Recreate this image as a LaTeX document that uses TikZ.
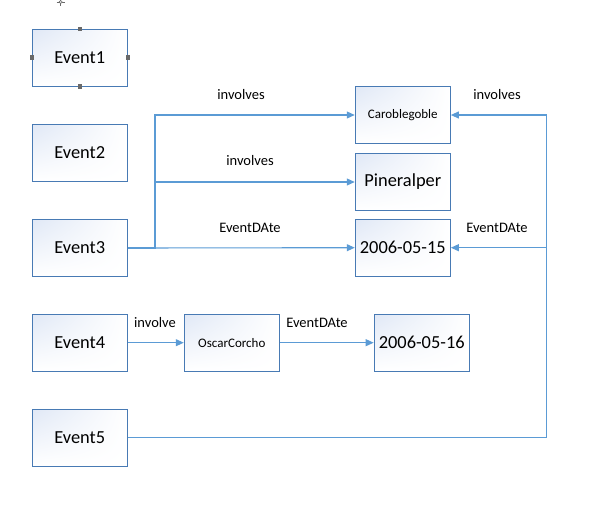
\documentclass[tikz,border=0pt]{standalone}
\usepackage{fontspec}
\setmainfont{Carlito}
\usetikzlibrary{arrows.meta,shadings}
\definecolor{boxline}{RGB}{72,122,180}
\definecolor{conncol}{RGB}{91,155,213}
\definecolor{boxtint}{RGB}{224,232,246}
\definecolor{handlecol}{RGB}{105,105,105}
\tikzset{
  box/.style={draw=boxline, line width=1.1pt, minimum width=95pt, minimum height=56.7pt, inner sep=0pt,
    shade, shading=bilinear interpolation, upper left=boxtint, upper right=white, lower left=white, lower right=white},
  big/.style={font=\fontsize{18.4}{20}\selectfont},
  small/.style={font=\fontsize{13}{15}\selectfont},
  lbl/.style={font=\fontsize{14.5}{16}\selectfont, inner sep=0pt},
  conn/.style={draw=conncol, line width=1.1pt, -{Triangle[length=8pt,width=7pt]}},
  plain/.style={draw=conncol, line width=1.1pt},
  handle/.style={fill=handlecol, draw=none, minimum size=4.5pt, inner sep=0pt}
}
\begin{document}
\begin{tikzpicture}[x=1pt,y=-1pt]
\useasboundingbox (0,0) rectangle (612,511);
\node[box,big] (e1) at (79.8,57.7) {Event1};
\node[box,big] (e2) at (79.8,153) {Event2};
\node[box,big] (e3) at (79.8,248) {Event3};
\node[box,big] (e4) at (79.8,342.7) {Event4};
\node[box,big] (e5) at (79.8,437.7) {Event5};
\node[box,small] (caro) at (402.8,115) {Caroblegoble};
\node[box,big] (pine) at (402.8,182) {Pineralper};
\node[box,big] (d15) at (402.8,247.7) {2006-05-15};
\node[box,small] (oscar) at (231.8,342.7) {OscarCorcho};
\node[box,big] (d16) at (421.7,342.7) {2006-05-16};
% selection handles
\node[handle] (h1) at (e1.north) {};
\node[handle] (h2) at (e1.south) {};
\node[handle] (h3) at (e1.west) {};
\node[handle] (h4) at (e1.east) {};
\draw[handlecol, line width=0.6pt] (56.7,2) -- (64.7,2) (60.7,-2) -- (60.7,6);
\draw[handlecol, line width=0.6pt, fill=white] (60.7,2) circle (1.6pt);
% connectors
\coordinate (jl) at (155,248);
\coordinate (jr) at (546.7,437.7);
\draw[conn] (e3.east) -- (jl) |- (caro.west);
\draw[conn] (jl |- pine.west) -- (pine.west);
\draw[conn] (e3.east) -- (d15.west);
\draw[conn] (e5.east) -- (jr) |- (caro.east);
\draw[conn] (jr |- d15.east) -- (d15.east);
\draw[conn] (e4.east) -- (oscar.west);
\draw[conn] (oscar.east) -- (d16.west);
% labels
\node[lbl] (l1) at (241,95) {involves};
\node[lbl] (l2) at (250,160.5) {involves};
\node[lbl] (l3) at (250,227.5) {EventDAte};
\node[lbl] (l4) at (497,95) {involves};
\node[lbl] (l5) at (497,228) {EventDAte};
\node[lbl] (l6) at (155,322.5) {involve};
\node[lbl] (l7) at (317,322.5) {EventDAte};
\end{tikzpicture}
\end{document}
